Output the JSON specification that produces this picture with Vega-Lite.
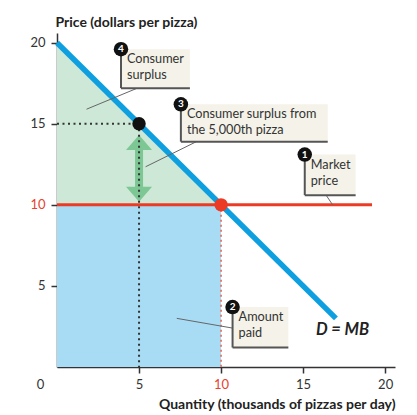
{
  "$schema": "https://vega.github.io/schema/vega-lite/v6.json",
  "description": "Consumer surplus on a pizza demand curve",
  "autosize": "none",
  "width": 338,
  "height": 334,
  "padding": {"left": 57, "top": 33, "right": 22, "bottom": 48},
  "background": "white",
  "config": {
    "view": {"stroke": null},
    "font": "Lato",
    "axis": {
      "grid": false,
      "domainColor": "#333",
      "domainWidth": 1.5,
      "tickColor": "#333",
      "tickWidth": 1.5,
      "tickSize": 6,
      "labelFont": "Lato",
      "labelFontSize": 13,
      "labelPadding": 5,
      "titleFont": "Lato",
      "titleFontSize": 14,
      "titleFontWeight": "bold",
      "titleColor": "#222"
    }
  },
  "datasets": {
    "surplus": [
      {"x": 0, "y": 20},
      {"x": 10, "y": 10}
    ],
    "paid": [
      {"x": 0, "y": 0, "x2": 10, "y2": 10}
    ],
    "lines": [
      {"kind": "arrow", "x": 5, "y": 13.4, "x2": 5, "y2": 11.1},
      {"kind": "dotblack", "x": 0, "y": 15, "x2": 5, "y2": 15},
      {"kind": "dotblack", "x": 5, "y": 15, "x2": 5, "y2": 0},
      {"kind": "dotred", "x": 10, "y": 10, "x2": 10, "y2": 0},
      {"kind": "price", "x": 0, "y": 10, "x2": 19.2, "y2": 10},
      {"kind": "demand", "x": 0, "y": 20, "x2": 17, "y2": 3},
      {"kind": "leader", "x": 4.9, "y": 17.2, "x2": 1.8, "y2": 15.9},
      {"kind": "leader", "x": 8.5, "y": 13.9, "x2": 5.4, "y2": 12.35},
      {"kind": "leader", "x": 16.4, "y": 10.6, "x2": 16.8, "y2": 10.0},
      {"kind": "leader", "x": 10.7, "y": 2.4, "x2": 7.3, "y2": 3.0}
    ],
    "points": [
      {"kind": "up", "x": 5, "y": 13.85},
      {"kind": "down", "x": 5, "y": 10.65},
      {"kind": "black", "x": 5, "y": 15},
      {"kind": "red", "x": 10, "y": 10}
    ],
    "boxes": [
      {"n": "4", "label": "Consumer\nsurplus", "x": 3.9, "x2": 8.1, "y": 17.2, "y2": 19.6},
      {"n": "3", "label": "Consumer surplus from\nthe 5,000th pizza", "x": 7.55, "x2": 16.5, "y": 13.9, "y2": 16.2},
      {"n": "1", "label": "Market\nprice", "x": 15.1, "x2": 18.2, "y": 10.6, "y2": 13.1},
      {"n": "2", "label": "Amount\npaid", "x": 10.7, "x2": 14.1, "y": 1.2, "y2": 3.7}
    ],
    "notes": [
      {"label": "D = MB", "x": 17.4, "y": 2.3}
    ],
    "origin": [
      {"label": "0", "x": -1, "y": -1.1}
    ]
  },
  "layer": [
    {
      "data": {"name": "paid"},
      "mark": {"type": "rect", "color": "#a8dcf5"},
      "encoding": {
        "x": {
          "field": "x", "type": "quantitative",
          "scale": {"domain": [0, 20.6], "nice": false},
          "axis": {
            "values": [5, 10, 15, 20],
            "title": "Quantity (thousands of pizzas per day)",
            "titleAlign": "right", "titleAnchor": null,
            "titleX": 338, "titleY": 41, "titleBaseline": "alphabetic",
            "labelColor": {"condition": {"test": "datum.value == 10", "value": "#e8412c"}, "value": "#333"}
          }
        },
        "x2": {"field": "x2"},
        "y": {
          "field": "y", "type": "quantitative",
          "scale": {"domain": [0, 20.6], "nice": false},
          "axis": {
            "values": [5, 10, 15, 20],
            "title": "Price (dollars per pizza)",
            "titleAngle": 0, "titleAlign": "left", "titleAnchor": null,
            "titleX": -2, "titleY": -7, "titleBaseline": "alphabetic",
            "labelPadding": 6,
            "labelColor": {"condition": {"test": "datum.value == 10", "value": "#e8412c"}, "value": "#333"}
          }
        },
        "y2": {"field": "y2"}
      }
    },
    {
      "data": {"name": "surplus"},
      "mark": {"type": "area", "color": "#cde8d6", "opacity": 1},
      "encoding": {
        "x": {"field": "x", "type": "quantitative"},
        "y": {"field": "y", "type": "quantitative"},
        "y2": {"datum": 10}
      }
    },
    {
      "data": {"name": "lines"},
      "transform": [{"filter": "datum.kind == 'arrow'"}],
      "mark": {"type": "rule", "color": "#7cc794", "strokeWidth": 8},
      "encoding": {
        "x": {"field": "x", "type": "quantitative"},
        "y": {"field": "y", "type": "quantitative"},
        "x2": {"field": "x2"},
        "y2": {"field": "y2"}
      }
    },
    {
      "data": {"name": "points"},
      "transform": [{"filter": "datum.kind == 'up'"}],
      "mark": {"type": "point", "filled": true, "color": "#7cc794", "opacity": 1, "size": 676, "shape": "M0,-0.58L1,0.58L-1,0.58Z"},
      "encoding": {
        "x": {"field": "x", "type": "quantitative"},
        "y": {"field": "y", "type": "quantitative"}
      }
    },
    {
      "data": {"name": "points"},
      "transform": [{"filter": "datum.kind == 'down'"}],
      "mark": {"type": "point", "filled": true, "color": "#7cc794", "opacity": 1, "size": 676, "shape": "M0,0.58L1,-0.58L-1,-0.58Z"},
      "encoding": {
        "x": {"field": "x", "type": "quantitative"},
        "y": {"field": "y", "type": "quantitative"}
      }
    },
    {
      "data": {"name": "lines"},
      "transform": [{"filter": "datum.kind == 'dotblack'"}],
      "mark": {"type": "rule", "color": "#333", "strokeWidth": 2, "strokeDash": [2, 3.5]},
      "encoding": {
        "x": {"field": "x", "type": "quantitative"},
        "y": {"field": "y", "type": "quantitative"},
        "x2": {"field": "x2"},
        "y2": {"field": "y2"}
      }
    },
    {
      "data": {"name": "lines"},
      "transform": [{"filter": "datum.kind == 'dotred'"}],
      "mark": {"type": "rule", "color": "#ef5a45", "strokeWidth": 1.5, "strokeDash": [2, 3]},
      "encoding": {
        "x": {"field": "x", "type": "quantitative"},
        "y": {"field": "y", "type": "quantitative"},
        "x2": {"field": "x2"},
        "y2": {"field": "y2"}
      }
    },
    {
      "data": {"name": "lines"},
      "transform": [{"filter": "datum.kind == 'price'"}],
      "mark": {"type": "rule", "color": "#ec3b25", "strokeWidth": 3},
      "encoding": {
        "x": {"field": "x", "type": "quantitative"},
        "y": {"field": "y", "type": "quantitative"},
        "x2": {"field": "x2"},
        "y2": {"field": "y2"}
      }
    },
    {
      "data": {"name": "lines"},
      "transform": [{"filter": "datum.kind == 'demand'"}],
      "mark": {"type": "rule", "color": "#0d9fe0", "strokeWidth": 5.5, "strokeCap": "butt"},
      "encoding": {
        "x": {"field": "x", "type": "quantitative"},
        "y": {"field": "y", "type": "quantitative"},
        "x2": {"field": "x2"},
        "y2": {"field": "y2"}
      }
    },
    {
      "data": {"name": "points"},
      "transform": [{"filter": "datum.kind == 'black'"}],
      "mark": {"type": "point", "filled": true, "shape": "circle", "color": "#111", "opacity": 1, "size": 180},
      "encoding": {
        "x": {"field": "x", "type": "quantitative"},
        "y": {"field": "y", "type": "quantitative"}
      }
    },
    {
      "data": {"name": "points"},
      "transform": [{"filter": "datum.kind == 'red'"}],
      "mark": {"type": "point", "filled": true, "shape": "circle", "color": "#ec3b25", "opacity": 1, "size": 180},
      "encoding": {
        "x": {"field": "x", "type": "quantitative"},
        "y": {"field": "y", "type": "quantitative"}
      }
    },
    {
      "data": {"name": "lines"},
      "transform": [{"filter": "datum.kind == 'leader'"}],
      "mark": {"type": "rule", "color": "#666", "strokeWidth": 1},
      "encoding": {
        "x": {"field": "x", "type": "quantitative"},
        "y": {"field": "y", "type": "quantitative"},
        "x2": {"field": "x2"},
        "y2": {"field": "y2"}
      }
    },
    {
      "data": {"name": "boxes"},
      "mark": {"type": "rect", "color": "#f4f2e9"},
      "encoding": {
        "x": {"field": "x", "type": "quantitative"},
        "x2": {"field": "x2"},
        "y": {"field": "y", "type": "quantitative"},
        "y2": {"field": "y2"}
      }
    },
    {
      "data": {"name": "boxes"},
      "mark": {"type": "rule", "color": "#555", "strokeWidth": 2},
      "encoding": {
        "x": {"field": "x", "type": "quantitative"},
        "y": {"field": "y", "type": "quantitative"},
        "y2": {"field": "y2"}
      }
    },
    {
      "data": {"name": "boxes"},
      "mark": {"type": "rule", "color": "#555", "strokeWidth": 2},
      "encoding": {
        "x": {"field": "x", "type": "quantitative"},
        "x2": {"field": "x2"},
        "y": {"field": "y", "type": "quantitative"}
      }
    },
    {
      "data": {"name": "boxes"},
      "mark": {"type": "text", "align": "left", "baseline": "top", "dx": 6, "dy": 4, "fontSize": 12.7, "lineHeight": 16, "lineBreak": "\n", "color": "#333"},
      "encoding": {
        "x": {"field": "x", "type": "quantitative"},
        "y": {"field": "y2", "type": "quantitative"},
        "text": {"field": "label"}
      }
    },
    {
      "data": {"name": "boxes"},
      "mark": {"type": "point", "filled": true, "shape": "circle", "color": "#111", "opacity": 1, "size": 210},
      "encoding": {
        "x": {"field": "x", "type": "quantitative"},
        "y": {"field": "y2", "type": "quantitative"}
      }
    },
    {
      "data": {"name": "boxes"},
      "mark": {"type": "text", "align": "center", "baseline": "middle", "fontSize": 10, "fontWeight": "bold", "color": "white"},
      "encoding": {
        "x": {"field": "x", "type": "quantitative"},
        "y": {"field": "y2", "type": "quantitative"},
        "text": {"field": "n"}
      }
    },
    {
      "data": {"name": "notes"},
      "mark": {"type": "text", "align": "center", "baseline": "middle", "fontSize": 16.5, "fontWeight": "bold", "fontStyle": "italic", "color": "#222"},
      "encoding": {
        "x": {"field": "x", "type": "quantitative"},
        "y": {"field": "y", "type": "quantitative"},
        "text": {"field": "label"}
      }
    },
    {
      "data": {"name": "origin"},
      "mark": {"type": "text", "align": "center", "baseline": "middle", "fontSize": 13, "color": "#333"},
      "encoding": {
        "x": {"field": "x", "type": "quantitative"},
        "y": {"field": "y", "type": "quantitative"},
        "text": {"field": "label"}
      }
    }
  ]
}
